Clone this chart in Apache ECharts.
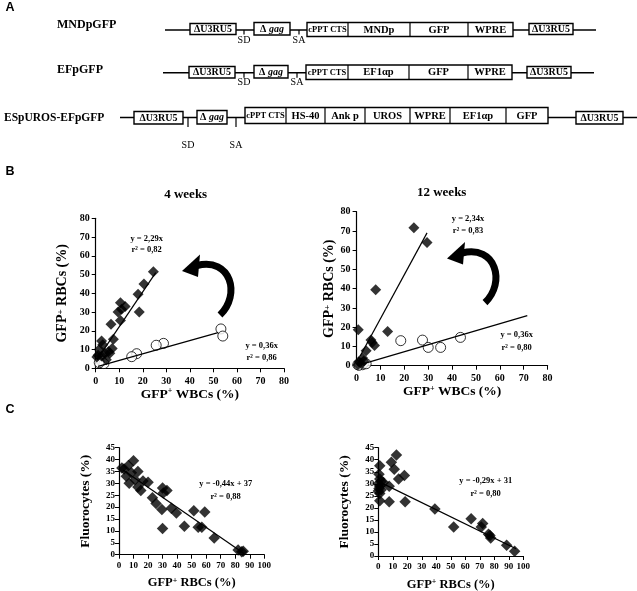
<!DOCTYPE html>
<html><head><meta charset="utf-8">
<script src="https://cdn.jsdelivr.net/npm/echarts@6/dist/echarts.min.js"></script>
<style>html,body{margin:0;padding:0;background:#fff}#c{width:637px;height:591px}</style>
</head><body><div id="c"></div>
<script>
// ---------------- DATA ----------------
// Panel A constructs
const constructNames = ['MNDpGFP', 'EFpGFP', 'ESpUROS-EFpGFP'];
const ltrLabel = 'ΔU3RU5';
const spliceLabels = ['SD', 'SA'];
const cassette1 = ['cPPT CTS', 'MNDp', 'GFP', 'WPRE'];
const cassette2 = ['cPPT CTS', 'EF1αp', 'GFP', 'WPRE'];
const cassette3 = ['cPPT CTS', 'HS-40', 'Ank p', 'UROS', 'WPRE', 'EF1αp', 'GFP'];

// Panel B (x: GFP+ WBCs %, y: GFP+ RBCs %)
const b4Diamonds = [[24.5,51.5],[20.5,45],[18,39.5],[18.5,30],[10.5,35],[12.5,33],[9.5,30],[11,31.5],[10.5,25.5],[6.5,23.5],[7.5,15.5],[2.5,14.5],[3,12.5],[1.5,10],[7,10.5],[5.5,9],[4,8],[1,7],[0.5,6],[4.5,4.5],[2.5,6.5],[6,8]];
const b4Circles = [[53.2,21],[54,17.2],[28.8,13.3],[25.7,12.3],[17.4,7.8],[15.3,6.2],[2.5,3.8],[3.5,2.5],[1.5,3]];
const b12Diamonds = [[24,71.7],[29.5,64],[8,39.5],[0.7,18.7],[13,17.8],[6,13.3],[7.5,10.5],[6.5,12],[4,7.8],[2.5,4],[1,2],[3,2.5],[2,1],[0.5,0.5]];
const b12Circles = [[43.5,14.7],[18.5,13],[27.6,13.3],[30,9.5],[35.2,9.5],[0.5,0.5],[1.5,1],[2.5,0.5],[3,1.5],[1,0.2],[4,1]];
const fitB4Diamonds = [[0.5,4.5],[25.5,51]];
const fitB4Circles = [[1,1],[52,19]];
const fitB12Diamonds = [[1.5,5],[29.5,69]];
const fitB12Circles = [[0.5,0.2],[71.5,26]];
const bTitles = ['4 weeks', '12 weeks'];
const eqB4 = ['y = 2,29x', 'r² = 0,82', 'y = 0,36x', 'r² = 0,86'];
const eqB12 = ['y = 2,34x', 'r² = 0,83', 'y = 0,36x', 'r² = 0,80'];
const bTicks = [0,10,20,30,40,50,60,70,80];

// Panel C (x: GFP+ RBCs %, y: Fluorocytes %)
const c4Diamonds = [[3.5,36],[2,36.5],[10,39.5],[6.5,37.5],[5,33],[8.5,34.5],[13,35],[7,30],[11,31.5],[13,28.5],[15,27],[16.5,31],[20,30.5],[23,24],[25.5,21.5],[30,28],[33,27],[30.5,26],[29.5,19],[30,11],[36,19.5],[39.5,17.5],[45,12],[51.5,18.5],[59,18],[54.5,11.5],[57,11.5],[65.5,7],[82,2],[84.5,1.2],[85.5,1.5]];
const c12Diamonds = [[12.5,42],[9,39],[11,36],[18,33.5],[14,32],[1,37.5],[0.5,34],[1,32],[0,30],[2,31],[3.5,30.5],[1,29],[0.5,28],[0,27],[1,26],[2,27.5],[1,23],[7.5,29],[7.5,22.5],[18.5,22.5],[39,19.5],[52,12],[64,15.5],[72,13.5],[71,12],[76,9],[77.5,7.5],[77,8.5],[88.5,4.5],[94,2]];
const fitC4 = [[3,35.5],[86,0.5]];
const fitC12 = [[0,31],[95,3]];
const eqC4 = ['y = -0,44x + 37', 'r² = 0,88'];
const eqC12 = ['y = -0,29x + 31', 'r² = 0,80'];
const cXTicks = [0,10,20,30,40,50,60,70,80,90,100];
const cYTicks = [0,5,10,15,20,25,30,35,40,45];
const panelLetters = ['A', 'B', 'C'];

// ---------------- CHART ----------------
const SERIF = 'Liberation Serif';
const SANS = 'Liberation Sans';
const chart = echarts.init(document.getElementById('c'), null, {width: 637, height: 591});

function makeAxis(gi, ticks, name, nameGap, nameSize, labelSize, isY, labelMargin) {
  return {
    gridIndex: gi, type: 'value',
    min: ticks[0], max: ticks[ticks.length - 1], interval: ticks[1] - ticks[0],
    name: name, nameLocation: 'middle', nameGap: nameGap, nameRotate: isY ? 90 : 0,
    nameTextStyle: {
      fontFamily: SERIF, fontWeight: 'bold', fontSize: nameSize, color: '#000',
      rich: { s: { fontFamily: SERIF, fontWeight: 'bold', fontSize: Math.round(nameSize * 0.62), verticalAlign: 'top', color: '#000' } }
    },
    axisLine: { show: true, onZero: false, lineStyle: { color: '#000', width: 1.2 } },
    axisTick: { show: true, length: 4, lineStyle: { color: '#000', width: 1 } },
    axisLabel: { fontFamily: SERIF, fontWeight: 'bold', fontSize: labelSize, color: '#000', margin: labelMargin },
    splitLine: { show: false }
  };
}

const grids = [
  { left: 95.7, top: 218.3, width: 188.3, height: 150 },
  { left: 356.6, top: 211.7, width: 191, height: 154 },
  { left: 119, top: 447.7, width: 145.3, height: 107 },
  { left: 378.3, top: 447.7, width: 145, height: 108.3 }
].map(g => Object.assign({ containLabel: false, outerBoundsMode: 'none' }, g));

const xAxes = [
  makeAxis(0, bTicks, 'GFP{s|+} WBCs (%)', 17, 13.5, 10, false, 8),
  makeAxis(1, bTicks, 'GFP{s|+} WBCs (%)', 18, 13.5, 10, false, 8),
  makeAxis(2, cXTicks, 'GFP{s|+} RBCs (%)', 22, 12.5, 9, false, 6),
  makeAxis(3, cXTicks, 'GFP{s|+} RBCs (%)', 22, 12.5, 9, false, 6)
];
const yAxes = [
  makeAxis(0, bTicks, 'GFP{s|+} RBCs (%)', 26, 14, 10, true, 6),
  makeAxis(1, bTicks, 'GFP{s|+} RBCs (%)', 19, 14, 10, true, 6),
  makeAxis(2, cYTicks, 'Fluorocytes (%)', 26, 13.5, 9, true, 4),
  makeAxis(3, cYTicks, 'Fluorocytes (%)', 27, 13.5, 9, true, 4)
];

function diamonds(i, data, size) {
  return { type: 'scatter', xAxisIndex: i, yAxisIndex: i, data: data, symbol: 'diamond', symbolSize: size,
    itemStyle: { color: '#000' }, silent: true, clip: false };
}
function circles(i, data) {
  return { type: 'scatter', xAxisIndex: i, yAxisIndex: i, data: data, symbol: 'circle', symbolSize: 10,
    itemStyle: { color: '#fff', borderColor: '#000', borderWidth: 1 }, silent: true, clip: false };
}
function fit(i, data) {
  return { type: 'line', xAxisIndex: i, yAxisIndex: i, data: data, symbol: 'none',
    lineStyle: { color: '#000', width: 1.2 }, silent: true, clip: false };
}

const series = [
  circles(0, b4Circles), fit(0, fitB4Circles), diamonds(0, b4Diamonds, 11), fit(0, fitB4Diamonds),
  circles(1, b12Circles), fit(1, fitB12Circles), diamonds(1, b12Diamonds, 11), fit(1, fitB12Diamonds),
  diamonds(2, c4Diamonds, 11.5), fit(2, fitC4),
  diamonds(3, c12Diamonds, 11.5), fit(3, fitC12)
];

// ---------- graphic (panel A schematic, titles, annotations, arrows) ----------
const G = [];
function txt(x, y, text, size, opts) {
  opts = opts || {};
  G.push({ type: 'text', x: x, y: y, silent: true, z: 10,
    style: Object.assign({ text: text, fontFamily: SERIF, fontWeight: 'bold', fontSize: size, fill: '#000',
      align: 'center', textAlign: 'center', verticalAlign: 'middle', textVerticalAlign: 'middle' }, opts) });
}
function hline(x1, x2, y, w) {
  G.push({ type: 'line', silent: true, shape: { x1: x1, y1: y, x2: x2, y2: y }, style: { stroke: '#000', lineWidth: w || 1.5 } });
}
function vline(x, y1, y2) {
  G.push({ type: 'line', silent: true, shape: { x1: x, y1: y1, x2: x, y2: y2 }, style: { stroke: '#000', lineWidth: 1.2 } });
}
function box(x1, x2, y1, y2) {
  G.push({ type: 'rect', silent: true, shape: { x: x1, y: y1, width: x2 - x1, height: y2 - y1 },
    style: { fill: '#fff', stroke: '#000', lineWidth: 1.4 } });
}

const rowLayout = [
  { lineY: 30, label: [57, 25], line: [165, 596], ltr1: [190, 236], ltrY: [23.5, 34.5], tick: 4.5, labY: 40,
    sd: 244, gag: [254, 290], gagY: [22.5, 35], sa: 299, cas: [307, 348, 410, 468, 513], casY: [22.5, 36.5], ltr2: [529, 573], cells: cassette1, labelSize: 12 },
  { lineY: 72.7, label: [57, 70.3], line: [163, 594], ltr1: [189, 235], ltrY: [66.5, 78], tick: 5, labY: 82.7,
    sd: 244, gag: [254, 288], gagY: [65.5, 78], sa: 297, cas: [306, 348, 409, 468, 512], casY: [65, 79.5], ltr2: [527, 571], cells: cassette2, labelSize: 12 },
  { lineY: 117.5, label: [4, 118], line: [120, 637], ltr1: [134, 183], ltrY: [111.5, 124], tick: 9.5, labY: 145,
    sd: 188, gag: [197, 227], gagY: [110.5, 124], sa: 236, cas: [245, 286, 325, 365, 410, 450, 506, 548], casY: [107.5, 123.5], ltr2: [576, 623], cells: cassette3, labelSize: 11.5 }
];

rowLayout.forEach((r, i) => {
  txt(r.label[0], r.label[1], constructNames[i], r.labelSize, { align: 'left', textAlign: 'left' });
  hline(r.line[0], r.line[1], r.lineY, 1.5);
  box(r.ltr1[0], r.ltr1[1], r.ltrY[0], r.ltrY[1]);
  txt((r.ltr1[0] + r.ltr1[1]) / 2, (r.ltrY[0] + r.ltrY[1]) / 2 + 0.5, ltrLabel, 10);
  box(r.ltr2[0], r.ltr2[1], r.ltrY[0], r.ltrY[1]);
  txt((r.ltr2[0] + r.ltr2[1]) / 2, (r.ltrY[0] + r.ltrY[1]) / 2 + 0.5, ltrLabel, 10);
  vline(r.sd, r.lineY, r.lineY + r.tick);
  vline(r.sa, r.lineY, r.lineY + r.tick);
  txt(r.sd, r.labY, spliceLabels[0], 10, { fontWeight: 'normal' });
  txt(r.sa, r.labY, spliceLabels[1], 10, { fontWeight: 'normal' });
  box(r.gag[0], r.gag[1], r.gagY[0], r.gagY[1]);
  G.push({ type: 'text', x: (r.gag[0] + r.gag[1]) / 2, y: (r.gagY[0] + r.gagY[1]) / 2 + 0.5, silent: true, z: 10,
    style: { text: '{n|Δ }{i|gag}', align: 'center', textAlign: 'center', verticalAlign: 'middle', textVerticalAlign: 'middle',
      rich: { n: { fontFamily: SERIF, fontWeight: 'bold', fontSize: 10, fill: '#000', color: '#000' },
              i: { fontFamily: SERIF, fontWeight: 'bold', fontStyle: 'italic', fontSize: 10, fill: '#000', color: '#000' } } } });
  box(r.cas[0], r.cas[r.cas.length - 1], r.casY[0], r.casY[1]);
  for (let k = 1; k < r.cas.length - 1; k++) vline(r.cas[k], r.casY[0], r.casY[1]);
  r.cells.forEach((c, k) => {
    txt((r.cas[k] + r.cas[k + 1]) / 2, (r.casY[0] + r.casY[1]) / 2 + 0.5, c, k === 0 ? 8.5 : 10.5);
  });
});

// Panel letters
txt(10, 8, panelLetters[0], 12.5, { fontFamily: SANS });
txt(10, 172, panelLetters[1], 12.5, { fontFamily: SANS });
txt(10, 410, panelLetters[2], 12.5, { fontFamily: SANS });

// B titles
txt(185.7, 195, bTitles[0], 13);
txt(441.7, 193, bTitles[1], 13);

// Equations
txt(146.7, 238.3, eqB4[0], 8.5); txt(146.7, 249.5, eqB4[1], 8.5);
txt(261.7, 346, eqB4[2], 8.5); txt(261.7, 358, eqB4[3], 8.5);
txt(468, 219, eqB12[0], 8.5); txt(468, 230.5, eqB12[1], 8.5);
txt(516.7, 335, eqB12[2], 8.5); txt(516.7, 347.3, eqB12[3], 8.5);
txt(225.7, 484, eqC4[0], 8.5); txt(225.7, 496.7, eqC4[1], 8.5);
txt(485.7, 480.7, eqC12[0], 8.5); txt(485.7, 493.3, eqC12[1], 8.5);

// Curved arrows (same shape, two positions)
function arrow(dx, dy) {
  G.push({ type: 'bezierCurve', silent: true, z: 5,
    shape: { x1: 220 + dx, y1: 315 + dy, cpx1: 241 + dx, cpy1: 295 + dy, cpx2: 231 + dx, cpy2: 257 + dy, x2: 197 + dx, y2: 265.5 + dy },
    style: { stroke: '#000', lineWidth: 7, fill: null, lineCap: 'butt' } });
  G.push({ type: 'polygon', silent: true, z: 5,
    shape: { points: [[182 + dx, 271 + dy], [200 + dx, 254.5 + dy], [198 + dx, 277 + dy]] },
    style: { fill: '#000' } });
}
arrow(0, 0);
arrow(265, -12.4);

chart.setOption({
  animation: false,
  backgroundColor: '#fff',
  grid: grids,
  xAxis: xAxes,
  yAxis: yAxes,
  series: series,
  graphic: { elements: G }
});
</script></body></html>
